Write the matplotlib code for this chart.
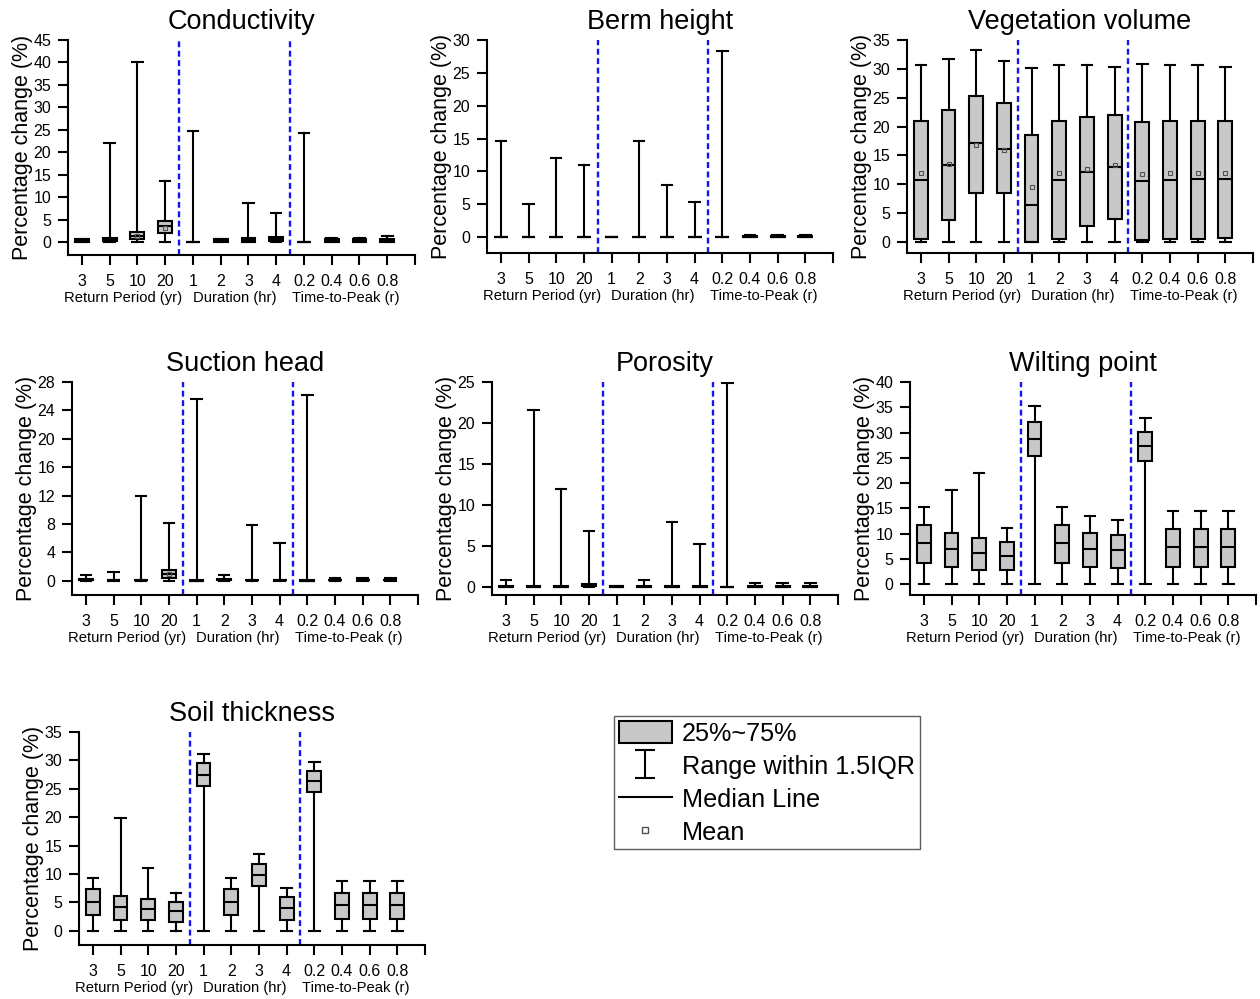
import numpy as np
import matplotlib
matplotlib.use("Agg")
import matplotlib.pyplot as plt
from matplotlib.lines import Line2D
from matplotlib.patches import Patch
from matplotlib.path import Path
from matplotlib.transforms import blended_transform_factory

plt.rcParams['font.family'] = ['Liberation Sans', 'DejaVu Sans']

# ---- categories -------------------------------------------------------
categories = ['3', '5', '10', '20', '1', '2', '3', '4', '0.2', '0.4', '0.6', '0.8']
group_names = ['Return Period (yr)', 'Duration (hr)', 'Time-to-Peak (r)']
group_size = 4
nan = np.nan

# ---- Conductivity -----------------------------------------------------
cond_lo = [0] * 12
cond_q1 = [0.2, 0.3, 0.8, 2.0, 0.0, 0.2, 0.2, 0.3, 0.0, 0.2, 0.2, 0.2]
cond_med = [0.45, 0.6, 1.5, 3.6, 0.0, 0.45, 0.5, 0.7, 0.0, 0.5, 0.5, 0.5]
cond_q3 = [0.7, 1.0, 2.3, 4.8, 0.05, 0.7, 0.9, 1.2, 0.05, 0.8, 0.8, 0.8]
cond_hi = [0.8, 22.0, 40.0, 13.6, 24.7, 0.8, 8.7, 6.5, 24.4, 1.0, 1.0, 1.4]
cond_mean = [nan, nan, 1.5, 3.2, nan, nan, nan, nan, nan, nan, nan, nan]

# ---- Berm height ------------------------------------------------------
berm_lo = [0] * 12
berm_q1 = [0] * 12
berm_med = [0, 0, 0, 0, 0, 0, 0, 0, 0, 0.1, 0.1, 0.1]
berm_q3 = [0, 0, 0, 0, 0, 0, 0, 0, 0, 0.2, 0.2, 0.2]
berm_hi = [14.7, 5.1, 12.1, 11.0, 0.05, 14.7, 8.0, 5.3, 28.4, 0.3, 0.3, 0.4]
berm_mean = [nan] * 12

# ---- Vegetation volume ------------------------------------------------
veg_lo = [0] * 12
veg_q1 = [0.5, 3.9, 8.5, 8.5, 0.0, 0.5, 2.7, 4.0, 0.4, 0.5, 0.6, 0.7]
veg_med = [10.8, 13.3, 17.1, 16.2, 6.5, 10.8, 12.2, 13.0, 10.6, 10.8, 10.9, 11.0]
veg_q3 = [21.0, 22.8, 25.3, 24.0, 18.5, 21.0, 21.7, 22.0, 20.8, 21.0, 21.0, 21.0]
veg_hi = [30.7, 31.7, 33.3, 31.4, 30.2, 30.7, 30.6, 30.3, 30.8, 30.7, 30.6, 30.3]
veg_mean = [11.9, 13.6, 16.8, 16.0, 9.6, 11.9, 12.7, 13.3, 11.8, 11.9, 11.9, 12.0]

# ---- Suction head -----------------------------------------------------
suc_lo = [0] * 12
suc_q1 = [0.05, 0.05, 0.05, 0.4, 0, 0.05, 0.05, 0.05, 0, 0.05, 0.05, 0.05]
suc_med = [0.1, 0.1, 0.1, 0.9, 0, 0.1, 0.1, 0.1, 0, 0.1, 0.1, 0.1]
suc_q3 = [0.2, 0.15, 0.15, 1.5, 0.05, 0.2, 0.15, 0.15, 0.05, 0.15, 0.15, 0.15]
suc_hi = [0.8, 1.3, 12.0, 8.2, 25.6, 0.8, 7.9, 5.3, 26.1, 0.4, 0.4, 0.4]
suc_mean = [nan, nan, nan, 1.0, nan, nan, nan, nan, nan, nan, nan, nan]

# ---- Porosity ---------------------------------------------------------
por_lo = [0] * 12
por_q1 = [0, 0, 0, 0.1, 0, 0, 0, 0, 0, 0, 0, 0]
por_med = [0.05, 0.05, 0.05, 0.25, 0.05, 0.05, 0.05, 0.05, 0.0, 0.05, 0.05, 0.05]
por_q3 = [0.1, 0.1, 0.1, 0.4, 0.1, 0.1, 0.1, 0.1, 0.05, 0.1, 0.1, 0.1]
por_hi = [0.9, 21.6, 12.0, 6.8, 0.1, 0.9, 8.0, 5.3, 24.9, 0.5, 0.5, 0.5]
por_mean = [nan] * 12

# ---- Wilting point ----------------------------------------------------
wilt_lo = [0] * 12
wilt_q1 = [4.2, 3.4, 2.9, 2.8, 25.4, 4.2, 3.4, 3.3, 24.3, 3.5, 3.5, 3.5]
wilt_med = [8.1, 7.0, 6.2, 5.7, 28.8, 8.1, 7.0, 6.8, 27.3, 7.4, 7.4, 7.4]
wilt_q3 = [11.7, 10.2, 9.1, 8.4, 32.0, 11.7, 10.2, 9.8, 30.2, 10.9, 10.9, 10.9]
wilt_hi = [15.2, 18.6, 22.0, 11.2, 35.2, 15.2, 13.6, 12.8, 32.9, 14.6, 14.5, 14.5]
wilt_mean = [nan] * 12

# ---- Soil thickness ---------------------------------------------------
soil_lo = [0] * 12
soil_q1 = [2.7, 1.9, 1.9, 1.6, 25.5, 2.7, 7.9, 1.9, 24.5, 2.0, 2.0, 2.0]
soil_med = [5.1, 4.2, 3.8, 3.5, 27.5, 5.1, 9.9, 4.0, 26.3, 4.5, 4.5, 4.5]
soil_q3 = [7.4, 6.2, 5.6, 5.1, 29.5, 7.4, 11.8, 5.9, 28.1, 6.7, 6.7, 6.7]
soil_hi = [9.3, 19.8, 11.0, 6.6, 31.2, 9.3, 13.6, 7.6, 29.7, 8.7, 8.7, 8.7]
soil_mean = [nan] * 12

# ---- figure -----------------------------------------------------------
W, H = 1260, 999
fig = plt.figure(figsize=(W / 100, H / 100), dpi=100)

BOX_GRAY = '#c8c8c8'
SEP_BLUE = '#1414f0'
LW = 1.5


def px_axes(l, t, r, b):
    return fig.add_axes([l / W, 1 - b / H, (r - l) / W, (b - t) / H])


def draw_panel(ax, title, lo, q1, med, q3, hi, mean, ymax, ystep, ybottom):
    pos = np.arange(1, len(categories) + 1)
    stats = [dict(whislo=a, q1=b, med=c, q3=d, whishi=e, fliers=[])
             for a, b, c, d, e in zip(lo, q1, med, q3, hi)]
    ax.bxp(stats, positions=pos, widths=0.5, capwidths=0.38,
           patch_artist=True, showfliers=False,
           boxprops=dict(facecolor=BOX_GRAY, edgecolor='black', linewidth=LW),
           medianprops=dict(color='black', linewidth=LW, solid_capstyle='butt'),
           whiskerprops=dict(color='black', linewidth=LW),
           capprops=dict(color='black', linewidth=LW))
    mean = np.asarray(mean, dtype=float)
    ok = np.isfinite(mean)
    ax.plot(pos[ok], mean[ok], 's', ms=3.2, mfc='none', mec='#505050',
            mew=0.8, zorder=5)

    # dashed separators between the three rainfall factors
    for k in range(1, len(group_names)):
        ax.axvline(group_size * k + 0.5, color=SEP_BLUE, lw=1.7,
                   ls=(0, (2.5, 1.5)), zorder=1)

    ax.set_xlim(0.5, len(categories) + 1)
    ax.set_ylim(ybottom, ymax)
    ax.set_xticks(np.arange(1, len(categories) + 2))
    ax.set_xticklabels(categories + [''])
    ax.set_yticks(np.arange(0, ymax + 0.01, ystep))
    ax.spines[['top', 'right']].set_visible(False)
    for s in ('left', 'bottom'):
        ax.spines[s].set_linewidth(LW)
    ax.tick_params(axis='both', direction='out', length=7.5, width=LW,
                   labelsize=11.5, colors='black')
    ax.tick_params(axis='x', pad=6.0)
    ax.tick_params(axis='y', pad=4.5)
    ax.set_title(title, fontsize=19.5, pad=8)
    ax.set_ylabel('Percentage change (%)', fontsize=15.5)
    ax.yaxis.set_label_coords(-0.1, 0.5)

    trans = blended_transform_factory(ax.transData, ax.transAxes)
    for g, name in enumerate(group_names):
        centre = g * group_size + (group_size + 1) / 2
        ax.text(centre, -0.2, name, transform=trans, ha='center',
                va='center', fontsize=10.6)


panels = [
    ((68, 40, 415, 255), 'Conductivity',
     cond_lo, cond_q1, cond_med, cond_q3, cond_hi, cond_mean, 45, 5, -2.8),
    ((487, 40, 833, 253), 'Berm height',
     berm_lo, berm_q1, berm_med, berm_q3, berm_hi, berm_mean, 30, 5, -2.4),
    ((907, 40, 1253, 253), 'Vegetation volume',
     veg_lo, veg_q1, veg_med, veg_q3, veg_hi, veg_mean, 35, 5, -1.9),
    ((72, 382, 418, 595), 'Suction head',
     suc_lo, suc_q1, suc_med, suc_q3, suc_hi, suc_mean, 28, 4, -2.0),
    ((492, 382, 838, 595), 'Porosity',
     por_lo, por_q1, por_med, por_q3, por_hi, por_mean, 25, 5, -0.95),
    ((910, 382, 1256, 595), 'Wilting point',
     wilt_lo, wilt_q1, wilt_med, wilt_q3, wilt_hi, wilt_mean, 40, 5, -2.1),
    ((79, 732, 425, 945), 'Soil thickness',
     soil_lo, soil_q1, soil_med, soil_q3, soil_hi, soil_mean, 35, 5, -2.5),
]

for rect, title, *rest in panels:
    ax = px_axes(*rect)
    draw_panel(ax, title, *rest)

# ---- legend -----------------------------------------------------------
ibeam = Path([(-0.36, 0.5), (0.36, 0.5), (0, 0.5), (0, -0.5),
              (-0.36, -0.5), (0.36, -0.5)],
             [Path.MOVETO, Path.LINETO, Path.MOVETO, Path.LINETO,
              Path.MOVETO, Path.LINETO])
handles = [Patch(facecolor=BOX_GRAY, edgecolor='black', linewidth=LW),
           Line2D([], [], marker=ibeam, ls='none', color='black', ms=20,
                  mew=LW),
           Line2D([], [], color='black', lw=LW),
           Line2D([], [], marker='s', ls='none', ms=4.5, mfc='white',
                  mec='#505050', mew=1)]
labels = ['25%~75%', 'Range within 1.5IQR', 'Median Line', 'Mean']
leg = fig.legend(handles, labels, loc='upper left',
                 bbox_to_anchor=(614 / W, 1 - 716 / H), fontsize=18.2,
                 frameon=True, fancybox=False, edgecolor='#333333',
                 borderpad=0.18, labelspacing=0.32, handlelength=2.13,
                 handleheight=1.0, handletextpad=0.38, borderaxespad=0)
leg.get_frame().set_linewidth(1.0)

fig.savefig('out.png', dpi=100)
